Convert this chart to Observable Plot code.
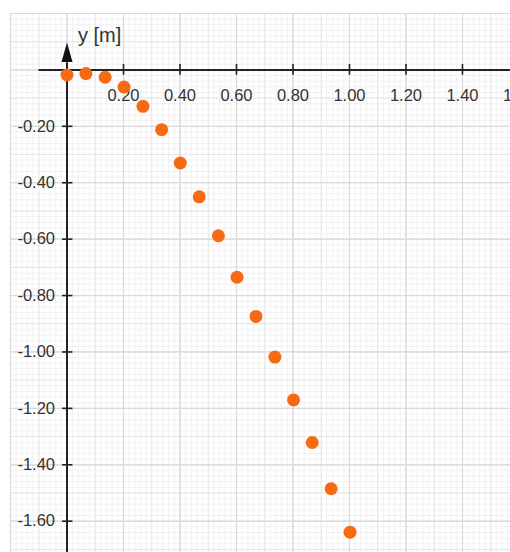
<!DOCTYPE html>
<html>
<head>
<meta charset="utf-8">
<script src="https://cdn.jsdelivr.net/npm/d3@7"></script>
<script src="https://cdn.jsdelivr.net/npm/@observablehq/plot@0.6"></script>
<style>
  html, body { margin: 0; padding: 0; background: #fff; overflow: hidden; }
  #chart svg { display: block; }
</style>
</head>
<body>
<div id="chart"></div>
<script>
// Data
const xValues = [0, 0.067, 0.135, 0.202, 0.269, 0.335, 0.401, 0.468, 0.536, 0.602, 0.669, 0.736, 0.802, 0.868, 0.935, 1.002];
const yValues = [-0.018, -0.013, -0.026, -0.061, -0.129, -0.212, -0.330, -0.450, -0.588, -0.735, -0.874, -1.018, -1.170, -1.321, -1.485, -1.639];

const xTicks = [0.2, 0.4, 0.6, 0.8, 1.0, 1.2, 1.4, 1.6];
const xTickLabels = ["0.20", "0.40", "0.60", "0.80", "1.00", "1.20", "1.40", "1.60"];
const yTicks = [-0.2, -0.4, -0.6, -0.8, -1.0, -1.2, -1.4, -1.6];
const yTickLabels = ["-0.20", "-0.40", "-0.60", "-0.80", "-1.00", "-1.20", "-1.40", "-1.60"];
const axisLabel = "y [m]";

const points = xValues.map((x, i) => ({x, y: yValues[i]}));
const xTickData = xTicks.map((v, i) => ({v, label: xTickLabels[i]}));
const yTickData = yTicks.map((v, i) => ({v, label: yTickLabels[i]}));

const xDomain = [-0.2, 1.57];
const yDomain = [-1.711, 0.2];

// graph-paper grid positions
const r2 = v => Math.round(v * 1000) / 1000;
const fineX = d3.range(0, 90).map(i => r2(-0.2 + i * 0.02));
const fineY = d3.range(0, 97).map(i => r2(0.2 - i * 0.02));
const midX = d3.range(0, 18).map(i => r2(-0.2 + i * 0.1));
const midY = d3.range(0, 20).map(i => r2(0.2 - i * 0.1));
const majX = d3.range(0, 9).map(i => r2(-0.2 + i * 0.2));
const majY = d3.range(0, 10).map(i => r2(0.2 - i * 0.2));

const arrowSymbol = {
  draw(ctx) {
    ctx.moveTo(0, -10);
    ctx.lineTo(5.5, 9.5);
    ctx.lineTo(-5.5, 9.5);
    ctx.closePath();
  }
};

const chart = Plot.plot({
  width: 510,
  height: 552,
  marginLeft: 10,
  marginTop: 13,
  marginRight: 0,
  marginBottom: 0,
  style: {fontFamily: "'Liberation Sans', Arial, Helvetica, sans-serif", background: "#fff"},
  x: {domain: xDomain, axis: null},
  y: {domain: yDomain, axis: null},
  marks: [
    Plot.ruleX(fineX, {stroke: "#f1f1f1", strokeWidth: 1}),
    Plot.ruleY(fineY, {stroke: "#f1f1f1", strokeWidth: 1}),
    Plot.ruleX(midX, {stroke: "#e6e6e6", strokeWidth: 1}),
    Plot.ruleY(midY, {stroke: "#e6e6e6", strokeWidth: 1}),
    Plot.ruleX(majX, {stroke: "#dadada", strokeWidth: 1.2}),
    Plot.ruleY(majY, {stroke: "#dadada", strokeWidth: 1.2}),
    // axes
    Plot.ruleY([0], {x1: -0.099, x2: xDomain[1], stroke: "#222", strokeWidth: 2}),
    Plot.ruleX([0], {y1: 0.025, y2: yDomain[0], stroke: "#222", strokeWidth: 2}),
    Plot.dot([{x: 0, y: 0.062}], {x: "x", y: "y", symbol: arrowSymbol, fill: "#111", stroke: "none"}),
    // ticks
    Plot.ruleX(xTickData, {x: "v", y1: 0.019, y2: -0.019, stroke: "#222", strokeWidth: 1.6}),
    Plot.ruleY(yTickData, {y: "v", x1: -0.016, x2: 0.021, stroke: "#222", strokeWidth: 1.6}),
    Plot.text(xTickData, {x: "v", y: 0, dy: 26, text: "label", fontSize: 16.5, fill: "#333", textAnchor: "middle"}),
    Plot.text(yTickData, {x: 0, y: "v", dx: -12, text: "label", fontSize: 16.5, fill: "#333", textAnchor: "end"}),
    Plot.text([axisLabel], {x: 0, y: 0.123, dx: 11, text: d => d, fontSize: 20, fill: "#333", textAnchor: "start"}),
    // data
    Plot.dot(points, {x: "x", y: "y", r: 6.5, fill: "#f76a14", stroke: "none"})
  ]
});
document.getElementById("chart").appendChild(chart);
</script>
</body>
</html>
